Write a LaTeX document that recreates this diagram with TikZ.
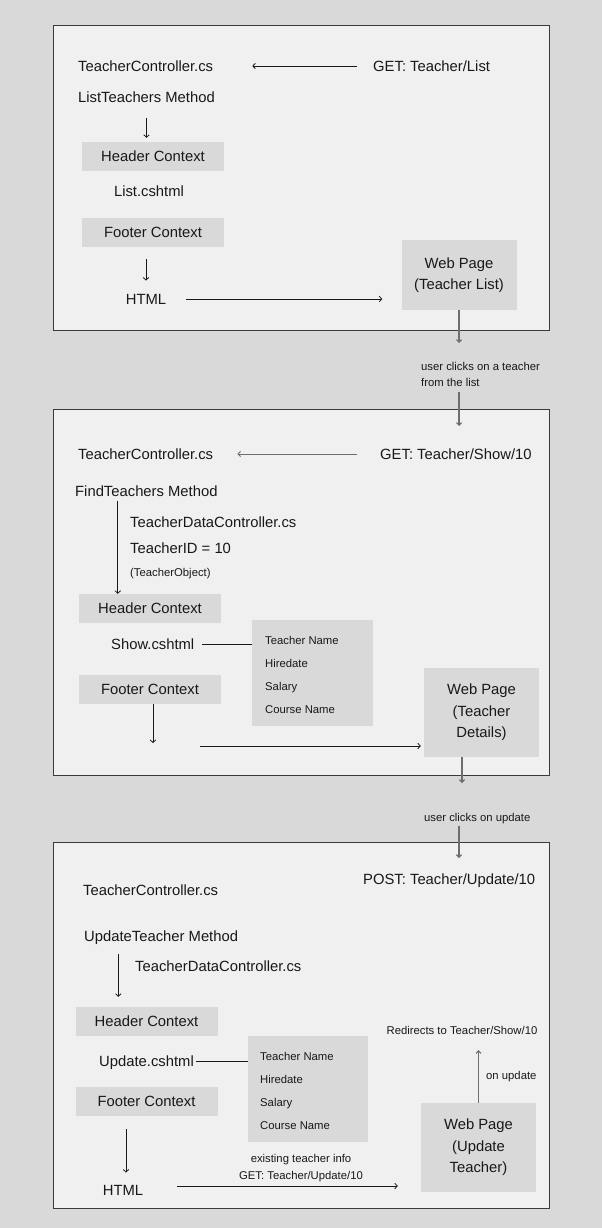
\documentclass[tikz,border=0pt]{standalone}
\usepackage{fontspec}
\setmainfont{Liberation Sans}
\usetikzlibrary{arrows.meta, positioning, calc}
\definecolor{pagegray}{RGB}{217, 217, 217}
\definecolor{panelfill}{RGB}{241, 240, 240}
\definecolor{boxgray}{RGB}{217, 217, 217}
\definecolor{inkdark}{RGB}{24, 24, 24}
\definecolor{linegray}{RGB}{110, 110, 110}

\begin{document}
\begin{tikzpicture}[x=1pt, y=-1pt,
    panel/.style={rectangle, draw=inkdark!85, line width=1pt, fill=panelfill, inner sep=0pt},
    lbl/.style={inner sep=0pt, text=inkdark, font=\fontsize{14.8}{17}\selectfont, text height=10.5pt, text depth=0pt},
    note/.style={inner sep=0pt, text=inkdark, font=\fontsize{11.3}{16}\selectfont, text height=8pt, text depth=0pt},
    ctxbox/.style={rectangle, fill=boxgray, minimum width=142pt, minimum height=29pt, inner sep=0pt,
                   text=inkdark, font=\fontsize{14.8}{17}\selectfont},
    fieldbox/.style={rectangle, fill=boxgray, minimum width=120pt, minimum height=106pt, inner sep=0pt},
    pagebox/.style={rectangle, fill=boxgray, minimum width=115pt, inner sep=0pt, align=center,
                    text=inkdark, font=\fontsize{14.8}{21.5}\selectfont},
    flow/.style={-{Straight Barb[length=2.5pt, width=5.5pt]}, draw=inkdark, line width=0.8pt},
    link/.style={draw=inkdark, line width=0.8pt},
    hop/.style={-{Straight Barb[length=2.5pt, width=5pt]}, draw=linegray, line width=1.2pt}
]

% Page and panels
\useasboundingbox[fill=pagegray] (0,0) rectangle (602,1228);
\node[panel, minimum width=496pt, minimum height=304pt] (panel1) at (301,178) {};
\node[panel, minimum width=496pt, minimum height=366pt] (panel2) at (301,592) {};
\node[panel, minimum width=496pt, minimum height=366pt] (panel3) at (301,1025) {};

% Panel 1: List
\node[lbl, anchor=west] (ctrl1) at (78,66) {TeacherController.cs};
\node[lbl, anchor=west] (get1) at (373,66) {GET: Teacher/List};
\node[lbl, anchor=west] (meth1) at (78,97) {ListTeachers Method};
\node[ctxbox] (hdr1) at (153,156.5) {Header Context};
\node[lbl] (view1) at (149,191) {List.cshtml};
\node[ctxbox] (ftr1) at (153,232.5) {Footer Context};
\node[lbl] (html1) at (146,299) {HTML};
\node[pagebox, minimum height=70pt] (web1) at (459,275) {Web Page\\(Teacher List)};

\draw[flow, shorten <=16pt, shorten >=39pt] (get1.west) -- (ctrl1.east);
\draw[flow, shorten <=16pt, shorten >=4pt] (meth1.south) -- (meth1.south |- hdr1.north);
\draw[flow, shorten <=12pt, shorten >=13pt] (html1 |- ftr1.south) -- (html1.north);
\draw[flow, shorten <=20pt, shorten >=19pt] (html1.east) -- (html1.east -| web1.west);

% Between panel 1 and 2
\coordinate (drop1) at (459,343);
\coordinate (in2) at (459,426);
\draw[hop] (web1.south) -- (drop1);
\node[note, anchor=west, align=left] (click1) at (421,382) {user clicks on a teacher\\from the list};
\draw[hop, shorten <=6pt] (in2 |- click1.south) -- (in2);

% Panel 2: Show
\node[lbl, anchor=west] (ctrl2) at (78,454) {TeacherController.cs};
\node[lbl, anchor=west] (get2) at (380,454) {GET: Teacher/Show/10};
\node[lbl, anchor=west] (meth2) at (75,491) {FindTeachers Method};
\node[lbl, anchor=west] (dc2) at (130,522) {TeacherDataController.cs};
\node[lbl, anchor=west] (id2) at (130,548) {TeacherID = 10};
\node[note, anchor=west] (obj2) at (130,572) {(TeacherObject)};
\node[ctxbox] (hdr2) at (150,608.5) {Header Context};
\node[lbl, anchor=west] (view2) at (111,644) {Show.cshtml};
\node[fieldbox, minimum width=121pt] (fields2) at (312.5,673) {};
\foreach \f [count=\i] in {Teacher Name, Hiredate, Salary, Course Name}
    \node[note, anchor=west] (f2-\i) at (265,{640+23*(\i-1)}) {\f};
\node[ctxbox] (ftr2) at (150,689.5) {Footer Context};
\node[pagebox, minimum height=89pt] (web2) at (481.5,712.5) {Web Page\\(Teacher\\Details)};
\coordinate (out2) at (153,743);
\coordinate (src2) at (200,746);

\draw[hop, line width=1pt, shorten <=23pt, shorten >=24pt] (get2.west) -- (ctrl2.east);
\draw[flow, shorten <=5pt] ([xshift=39pt]hdr2.north west |- meth2.south) -- ([xshift=39pt]hdr2.north west);
\draw[link, shorten <=8pt] (view2.east) -- (view2.east -| fields2.west);
\draw[flow] (out2 |- ftr2.south) -- (out2);
\draw[flow, shorten >=3pt] (src2) -- (src2 -| web2.west);

% Between panel 2 and 3
\coordinate (drop2) at (462,783);
\coordinate (in3) at (459,858);
\draw[hop] (drop2 |- web2.south) -- (drop2);
\node[note, anchor=west] (click2) at (424,817) {user clicks on update};
\draw[hop, shorten <=5pt] (in3 |- click2.south) -- (in3);

% Panel 3: Update
\node[lbl, anchor=west] (post3) at (363,879) {POST: Teacher/Update/10};
\node[lbl, anchor=west] (ctrl3) at (83,890) {TeacherController.cs};
\node[lbl, anchor=west] (meth3) at (84,936) {UpdateTeacher Method};
\node[lbl, anchor=west] (dc3) at (135,966) {TeacherDataController.cs};
\node[ctxbox] (hdr3) at (146.5,1021.5) {Header Context};
\node[lbl, anchor=west] (view3) at (99,1061) {Update.cshtml};
\node[fieldbox] (fields3) at (308,1089) {};
\foreach \f [count=\i] in {Teacher Name, Hiredate, Salary, Course Name}
    \node[note, anchor=west] (f3-\i) at (260,{1056+23*(\i-1)}) {\f};
\node[ctxbox] (ftr3) at (146.5,1101.5) {Footer Context};
\node[lbl] (html3) at (123,1190) {HTML};
\node[pagebox, minimum height=89pt] (web3) at (478.5,1147.5) {Web Page\\(Update\\Teacher)};
\node[note, align=center, font=\fontsize{11.3}{17}\selectfont] (info3) at (301,1175) {existing teacher info\\GET: Teacher/Update/10};
\node[note] (redir3) at (462,1030) {Redirects to Teacher/Show/10};
\node[note, anchor=west] (onupd3) at (486,1075) {on update};

\draw[flow, shorten <=13pt, shorten >=10pt] ([xshift=43pt]hdr3.north west |- meth3.south) -- ([xshift=43pt]hdr3.north west);
\draw[link, shorten <=2pt] (view3.east) -- (view3.east -| fields3.west);
\draw[flow, shorten <=13pt, shorten >=12pt] ([xshift=3pt]html3 |- ftr3.south) -- ([xshift=3pt]html3.north);
\draw[flow, shorten <=34pt, shorten >=23pt] ([yshift=4pt]html3.east) -- ([yshift=4pt]html3.east -| web3.west);
\draw[hop, line width=1pt, shorten >=16pt] (web3.north) -- (web3.north |- redir3.south);

\end{tikzpicture}
\end{document}
